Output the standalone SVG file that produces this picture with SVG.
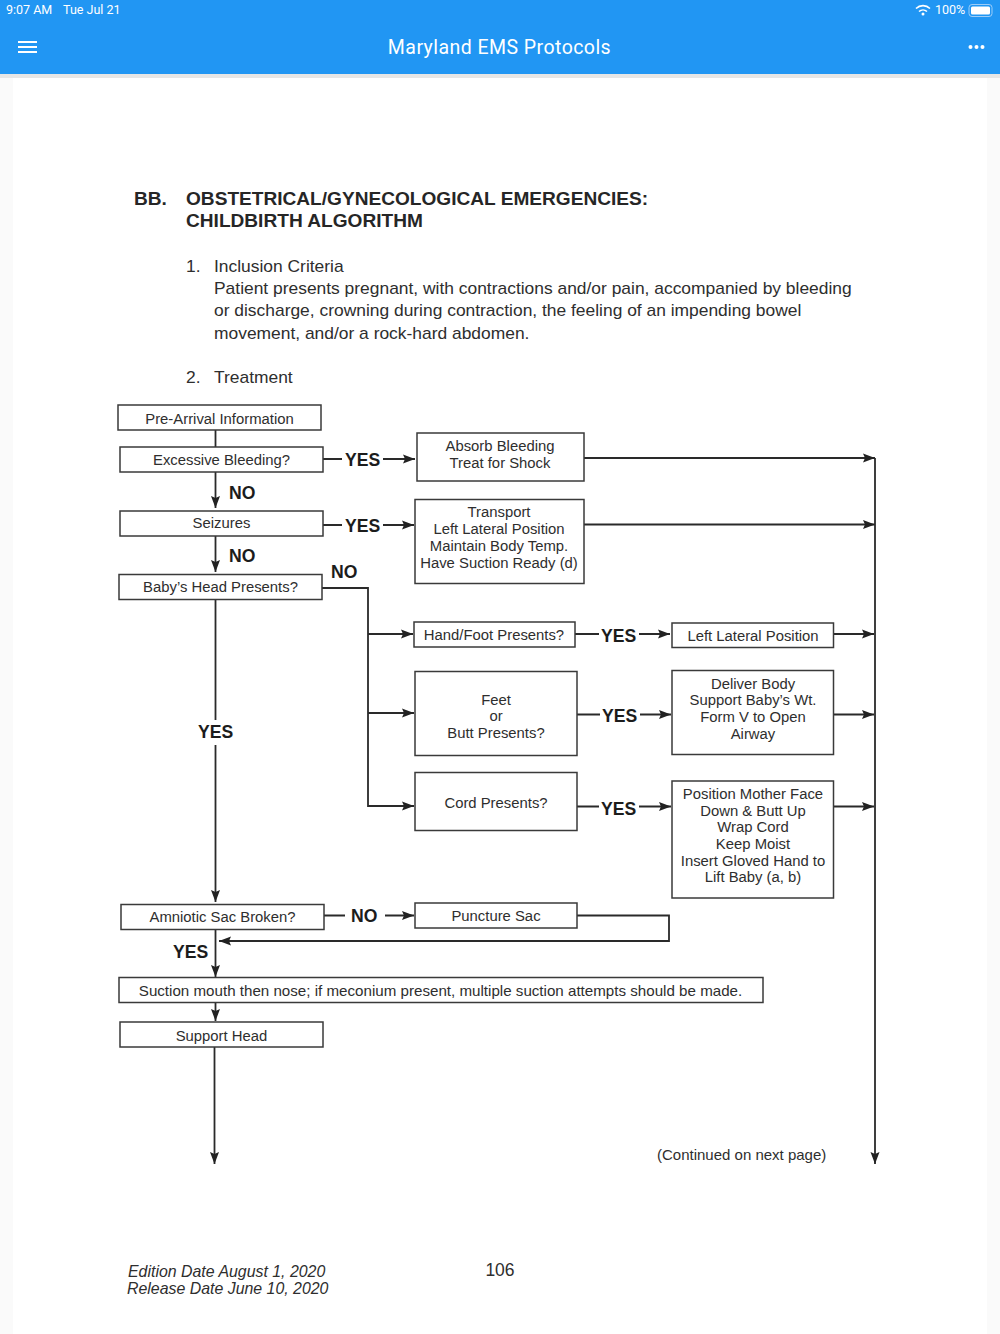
<svg xmlns="http://www.w3.org/2000/svg" width="1000" height="1334" viewBox="0 0 1000 1334">
<style>
text{font-family:"Liberation Sans",Arial,sans-serif;fill:#2e2e2e}
.b rect{fill:#fff;stroke:#3a3a3a;stroke-width:1.5}
.b text{font-size:14.85px;text-anchor:middle}
.b .w{font-size:15.15px}
.l{font-size:17.6px;font-weight:700;fill:#1c1c1c}
.p{font-size:17.42px}
.h{font-size:19.1px;font-weight:700;fill:#262626}
.c path{fill:none;stroke:#2a2a2a;stroke-width:1.8}
.ui{fill:#fff;font-family:Roboto,sans-serif}
</style>
<defs>
<marker id="a" markerUnits="userSpaceOnUse" markerWidth="13" markerHeight="10" refX="12" refY="5" orient="auto"><path d="M0 .5L12 5L0 9.500L2 5Z" fill="#222"/></marker>
</defs>
<rect width="1000" height="1334" fill="#fafafa"/>
<rect x="13" y="74" width="974" height="1260" fill="#fff"/>
<rect y="74" width="1000" height="4" fill="#e6e6e6"/>
<rect width="1000" height="74" fill="#2196f3"/>
<text class="ui" x="6" y="14" font-size="12.5" style="fill:#fff">9:07 AM</text>
<text class="ui" x="63" y="14" font-size="12.5" style="fill:#fff">Tue Jul 21</text>
<text class="ui" x="935" y="14" font-size="12.5" style="fill:#fff">100%</text>
<path d="M916 8.500a10 10 0 0 1 14 0M919 11.500a6 6 0 0 1 8 0" fill="none" stroke="#fff" stroke-width="1.600"/><circle cx="923" cy="14" r="1.500" fill="#fff"/>
<rect x="969" y="4.500" width="23" height="12" rx="3" fill="none" stroke="#9ccdf8"/><rect x="971" y="6.500" width="19" height="8" rx="1.500" fill="#fff"/>
<path d="M18 42h19M18 47h19M18 52h19" stroke="#fff" stroke-width="2"/>
<text class="ui" x="499.500" y="54" font-size="19.500" text-anchor="middle" style="fill:#fff;letter-spacing:.45px">Maryland EMS Protocols</text>
<g fill="#fff"><circle cx="970.500" cy="47" r="2"/><circle cx="976.500" cy="47" r="2"/><circle cx="982.500" cy="47" r="2"/></g>
<g id="page-text">
<text class="h" x="134" y="205">BB.</text>
<text class="h" x="186" y="205">OBSTETRICAL/GYNECOLOGICAL EMERGENCIES:</text>
<text class="h" x="186" y="227">CHILDBIRTH ALGORITHM</text>
<text class="p" x="186" y="272">1.</text>
<text class="p" x="214" y="272">Inclusion Criteria</text>
<text class="p" x="214" y="294">Patient presents pregnant, with contractions and/or pain, accompanied by bleeding</text>
<text class="p" x="214" y="316">or discharge, crowning during contraction, the feeling of an impending bowel</text>
<text class="p" x="214" y="338.500">movement, and/or a rock-hard abdomen.</text>
<text class="p" x="186" y="383">2.</text>
<text class="p" x="214" y="383">Treatment</text>
</g>
<g id="connectors" class="c">
<path d="M215.500 430V447"/>
<path d="M215.500 472V508" marker-end="url(#a)"/>
<path d="M215.500 536V572" marker-end="url(#a)"/>
<path d="M215.500 600V720M215.500 745V902" marker-end="url(#a)"/>
<path d="M215.500 929V977" marker-end="url(#a)"/>
<path d="M215.500 1003V1021" marker-end="url(#a)"/>
<path d="M214.500 1047V1164" marker-end="url(#a)"/>
<path d="M323 459H342M383 459H415" marker-end="url(#a)"/>
<path d="M323 525H342M383 525H414" marker-end="url(#a)"/>
<path d="M584 458H875" marker-end="url(#a)"/>
<path d="M584 524.500H875" marker-end="url(#a)"/>
<path d="M875 458V1164" marker-end="url(#a)"/>
<path d="M322 588H368V806H414" marker-end="url(#a)"/>
<path d="M368 634H413" marker-end="url(#a)"/>
<path d="M368 713H414" marker-end="url(#a)"/>
<path d="M575 634H599M639 634H670" marker-end="url(#a)"/>
<path d="M577 714.500H600M640 714.500H671" marker-end="url(#a)"/>
<path d="M577 806.500H599M639 806.500H671" marker-end="url(#a)"/>
<path d="M833 634H874" marker-end="url(#a)"/>
<path d="M833 714.500H874" marker-end="url(#a)"/>
<path d="M833 806.500H874" marker-end="url(#a)"/>
<path d="M324 915.500H345M385 915.500H414" marker-end="url(#a)"/>
<path d="M577 915.500H669V941H219" marker-end="url(#a)"/>
</g>
<g id="labels">
<text class="l" x="345" y="466">YES</text>
<text class="l" x="345" y="531.500">YES</text>
<text class="l" x="229" y="499">NO</text>
<text class="l" x="229" y="562">NO</text>
<text class="l" x="331" y="578">NO</text>
<text class="l" x="198" y="737.500">YES</text>
<text class="l" x="601" y="642">YES</text>
<text class="l" x="602" y="721.500">YES</text>
<text class="l" x="601" y="814.500">YES</text>
<text class="l" x="351" y="922">NO</text>
<text class="l" x="173" y="958">YES</text>
</g>
<g class="b">
<g id="n1"><rect x="118" y="405" width="203" height="25"/><text x="219.500" y="423.500">Pre-Arrival Information</text></g>
<g id="n2"><rect x="120" y="447" width="203" height="25"/><text x="221.500" y="465">Excessive Bleeding?</text></g>
<g id="n3"><rect x="120" y="511" width="203" height="25"/><text x="221.500" y="528.200">Seizures</text></g>
<g id="n4"><rect x="119" y="574.500" width="203" height="25"/><text x="220.500" y="592.200">Baby’s Head Presents?</text></g>
<g id="n5"><rect x="417" y="433" width="167" height="48"/><text x="500" y="451">Absorb Bleeding</text><text x="500" y="467.500">Treat for Shock</text></g>
<g id="n6"><rect x="415" y="499.500" width="169" height="84"/><text x="499" y="517">Transport</text><text x="499" y="534">Left Lateral Position</text><text x="499" y="550.500">Maintain Body Temp.</text><text x="499" y="567.500">Have Suction Ready (d)</text></g>
<g id="n7"><rect x="414" y="622" width="161" height="25"/><text x="494" y="639.500">Hand/Foot Presents?</text></g>
<g id="n8"><rect x="415" y="671.500" width="162" height="84"/><text x="496" y="704.500">Feet</text><text x="496" y="721">or</text><text x="496" y="737.500">Butt Presents?</text></g>
<g id="n9"><rect x="415" y="772.500" width="162" height="58"/><text x="496" y="808.200">Cord Presents?</text></g>
<g id="n10"><rect x="672" y="623" width="161.500" height="24.500"/><text x="753" y="640.500">Left Lateral Position</text></g>
<g id="n11"><rect x="672" y="670.500" width="161.500" height="84"/><text x="753" y="688.500">Deliver Body</text><text x="753" y="705">Support Baby’s Wt.</text><text x="753" y="721.500">Form V to Open</text><text x="753" y="738.500">Airway</text></g>
<g id="n12"><rect x="672" y="781" width="161.500" height="117"/><text x="753" y="799">Position Mother Face</text><text x="753" y="815.500">Down &amp; Butt Up</text><text x="753" y="832">Wrap Cord</text><text x="753" y="849">Keep Moist</text><text x="753" y="865.500">Insert Gloved Hand to</text><text x="753" y="882">Lift Baby (a, b)</text></g>
<g id="n13"><rect x="121" y="904.500" width="203" height="25"/><text x="222.500" y="922">Amniotic Sac Broken?</text></g>
<g id="n14"><rect x="415" y="903" width="162" height="25"/><text x="496" y="921">Puncture Sac</text></g>
<g id="n15"><rect x="119" y="977.500" width="644" height="25"/><text class="w" x="440.500" y="996">Suction mouth then nose; if meconium present, multiple suction attempts should be made.</text></g>
<g id="n16"><rect x="120" y="1022" width="203" height="25"/><text x="221.500" y="1040.500">Support Head</text></g>
</g>
<text x="657" y="1160" font-size="15">(Continued on next page)</text>
<text x="128" y="1277" font-size="15.9" font-style="italic">Edition Date August 1, 2020</text>
<text x="127" y="1294" font-size="15.9" font-style="italic">Release Date June 10, 2020</text>
<text x="500" y="1276" font-size="17.5" text-anchor="middle">106</text>
</svg>
